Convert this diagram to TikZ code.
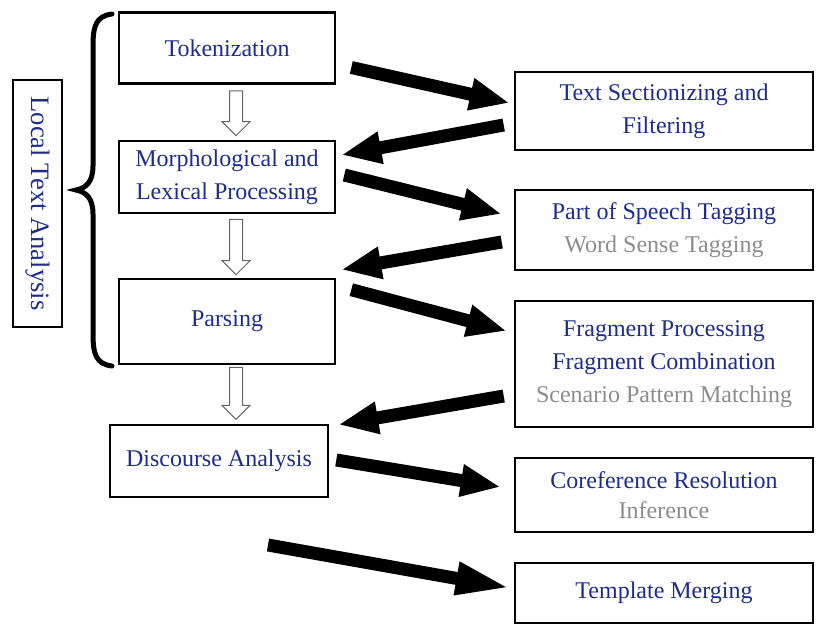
\documentclass[tikz,border=0pt]{standalone}
\usepackage{fontspec}
\setmainfont{Liberation Serif}
\usetikzlibrary{arrows.meta,calc}
\definecolor{stageblue}{RGB}{30,45,140}
\definecolor{stagegray}{RGB}{140,140,140}
% vertical outlined arrow between two named points (#1 top of shaft, #2 tip)
\newcommand{\hollowarrow}[2]{%
  \draw[hollowstyle] ($(#1)+(-6.5,0)$) -- ($(#2)+(-6.5,-14)$) -- ($(#2)+(-14,-14)$)
    -- (#2) -- ($(#2)+(14,-14)$) -- ($(#2)+(6.5,-14)$) -- ($(#1)+(6.5,0)$) -- cycle;}
\begin{document}
\begin{tikzpicture}[x=1pt,y=-1pt,
  box/.style 2 args={draw, line width=2.6pt, inner sep=0pt, align=center, text=stageblue,
    font=\fontsize{24}{33}\selectfont,
    minimum width=#1, minimum height=#2},
  smallbox/.style 2 args={box={#1}{#2}, font=\fontsize{24}{30}\selectfont},
  bigarrow/.style={line width=13pt, -{Triangle[length=40pt,width=30pt]}},
  longarrow/.style={line width=13pt, -{Triangle[length=55pt,width=30pt]}},
  hollowstyle/.style={draw=black!60, fill=white, line width=1pt},
  bracestyle/.style={line width=5pt, line cap=round}]
\useasboundingbox (0,0) rectangle (816,625);

% left-hand stages
\node[box={216}{71}] (tok) at (227,48) {Tokenization};
\node[box={216}{72}] (morph) at (227,177) {Morphological and\\Lexical Processing};
\node[box={216}{85}] (parse) at (227,321.5) {Parsing};
\node[box={218}{72}] (disc) at (219,461) {Discourse Analysis};

% group label and brace
\node[box={247}{49}, rotate=-90, font=\fontsize{26.6}{33}\selectfont] (lta) at (37.5,203.5) {Local Text Analysis};
\draw[bracestyle] (112,14) .. controls (96,16) and (93,26) .. (93,46) -- (93,166)
  .. controls (93,182) and (86,188) .. (76,190) .. controls (86,192) and (93,198) .. (93,214)
  -- (93,334) .. controls (93,354) and (96,364) .. (112,366);

% right-hand stages
\node[box={298}{78}] (ts) at (664,111) {Text Sectionizing and\\Filtering};
\node[box={298}{80}] (pos) at (664,230) {Part of Speech Tagging\\\textcolor{stagegray}{Word Sense Tagging}};
\node[box={298}{126}] (frag) at (664,364) {Fragment Processing\\Fragment Combination\\\textcolor{stagegray}{Scenario Pattern Matching}};
\node[smallbox={298}{74}] (coref) at (664,495) {Coreference Resolution\\\textcolor{stagegray}{Inference}};
\node[smallbox={298}{60}] (tmpl) at (664,593) {Template Merging};

% flow between left-hand stages
\coordinate (h1a) at ($(tok.south)+(9,6)$);
\coordinate (h1b) at ($(morph.north)+(9,-4)$);
\coordinate (h2a) at ($(morph.south)+(9,5)$);
\coordinate (h2b) at ($(parse.north)+(9,-3)$);
\coordinate (h3a) at ($(parse.south)+(9,2)$);
\coordinate (h3b) at ($(parse.south)+(9,54)$);
\hollowarrow{h1a}{h1b}
\hollowarrow{h2a}{h2b}
\hollowarrow{h3a}{h3b}

% exchanges with the right-hand stages
\draw[bigarrow] ($(tok.east)+(15,19.5)$) -- ($(ts.west)+(-4,-8)$);
\draw[bigarrow] ($(ts.west)+(-10,14)$) -- ($(morph.east)+(5,-22)$);
\draw[bigarrow] ($(morph.east)+(8,-2)$) -- ($(pos.west)+(-12,-16)$);
\draw[bigarrow] ($(pos.west)+(-12,12)$) -- ($(parse.north east)+(5,-8)$);
\draw[bigarrow] ($(parse.north east)+(15,12)$) -- ($(frag.west)+(-7,-33)$);
\draw[bigarrow] ($(frag.west)+(-10,32)$) -- ($(disc.north east)+(9,1)$);
\draw[bigarrow] ($(disc.east)+(7,-1)$) -- ($(coref.west)+(-13,-8)$);
\coordinate (tstart) at (268,545);
\draw[longarrow] (tstart) -- ($(tmpl.west)+(-3,-5)$);
\end{tikzpicture}
\end{document}
